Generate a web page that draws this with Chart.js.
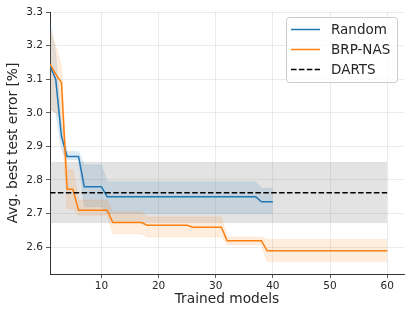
<!DOCTYPE html>
<html><head><meta charset="utf-8">
<script src="https://cdn.jsdelivr.net/npm/chart.js@4"></script>
<style>html,body{margin:0;padding:0;background:#fff}#wrap{width:415px;height:317px;position:relative}</style>
</head><body><div id="wrap"><canvas id="c"></canvas></div>
<script>
// ---- data ----
const randomX     = [1, 2, 3, 4, 6, 7, 10, 11, 37, 38, 40];
const randomMean  = [3.14, 3.10, 2.93, 2.87, 2.87, 2.78, 2.78, 2.75, 2.75, 2.735, 2.735];
const randomUpper = [3.27, 3.18, 2.97, 2.885, 2.885, 2.845, 2.845, 2.795, 2.795, 2.775, 2.775];
const randomLower = [3.01, 3.00, 2.89, 2.86, 2.86, 2.72, 2.72, 2.70, 2.70, 2.70, 2.70];

const brpX     = [1, 2, 3, 4, 5, 6, 11, 12, 17, 18, 25, 26, 31, 32, 38, 39, 60];
const brpMean  = [3.145, 3.115, 3.09, 2.772, 2.772, 2.71, 2.71, 2.673, 2.673, 2.665, 2.665, 2.659, 2.659, 2.619, 2.619, 2.589, 2.589];
const brpUpper = [3.245, 3.20, 3.14, 2.83, 2.83, 2.74, 2.74, 2.705, 2.705, 2.69, 2.69, 2.69, 2.69, 2.63, 2.63, 2.623, 2.623];
const brpLower = [3.01, 3.00, 2.98, 2.715, 2.715, 2.695, 2.695, 2.64, 2.64, 2.63, 2.63, 2.63, 2.63, 2.607, 2.607, 2.557, 2.557];

const dartsX     = [1, 60];
const dartsMean  = [2.762, 2.762];
const dartsUpper = [2.852, 2.852];
const dartsLower = [2.673, 2.673];

const seriesNames = ['Random', 'BRP-NAS', 'DARTS'];
const xTicks = [10, 20, 30, 40, 50, 60];
const yTicks = [2.6, 2.7, 2.8, 2.9, 3.0, 3.1, 3.2, 3.3];
const xLimits = [1, 62.95];
const yLimits = [2.52, 3.3];
const xTitle = 'Trained models';
const yTitle = 'Avg. best test error [%]';

// ---- styling ----
const BLUE = '#1f77b4', ORANGE = '#ff7f0e';
const FONT = "'DejaVu Sans', sans-serif";
const TXT = '#262626';
const pts = (xs, ys) => xs.map((x, i) => ({x: x, y: ys[i]}));

function bandPair(name, xs, up, lo, fillCol, edgeCol, ord) {
  return [
    {label: name + ' upper', data: pts(xs, up), borderColor: edgeCol, borderWidth: 0.8, pointRadius: 0, fill: false, order: ord},
    {label: name + ' lower', data: pts(xs, lo), borderColor: edgeCol, borderWidth: 0.8, pointRadius: 0, fill: '-1', backgroundColor: fillCol, order: ord}
  ];
}

const datasets = [
  {label: seriesNames[0], inLegend: true, data: pts(randomX, randomMean), borderColor: BLUE, borderWidth: 1.5, pointRadius: 0, fill: false, order: 2},
  {label: seriesNames[1], inLegend: true, data: pts(brpX, brpMean), borderColor: ORANGE, borderWidth: 1.5, pointRadius: 0, fill: false, order: 1},
  {label: seriesNames[2], inLegend: true, data: pts(dartsX, dartsMean), borderColor: '#000', borderDash: [5.5, 2.4], borderWidth: 1.5, pointRadius: 0, fill: false, order: 0},
  ...bandPair('DARTS', dartsX, dartsUpper, dartsLower, 'rgba(128,128,128,0.22)', 'rgba(128,128,128,0.18)', 9),
  ...bandPair('Random', randomX, randomUpper, randomLower, 'rgba(31,119,180,0.15)', 'rgba(31,119,180,0.1)', 8),
  ...bandPair('BRP-NAS', brpX, brpUpper, brpLower, 'rgba(255,127,14,0.14)', 'rgba(255,127,14,0.12)', 7)
];

const boxLegend = {
  id: 'boxLegend',
  afterDraw(chart) {
    const ctx = chart.ctx, ca = chart.chartArea;
    const items = chart.data.datasets.filter(d => d.inLegend);
    const w = 111, h = 65;
    const x0 = ca.right - 7 - w, y0 = ca.top + 5;
    ctx.save();
    ctx.beginPath();
    if (ctx.roundRect) ctx.roundRect(x0 + 0.5, y0 + 0.5, w, h, 3); else ctx.rect(x0 + 0.5, y0 + 0.5, w, h);
    ctx.fillStyle = 'rgba(255,255,255,0.8)';
    ctx.fill();
    ctx.strokeStyle = '#cccccc';
    ctx.lineWidth = 1;
    ctx.stroke();
    items.forEach((d, i) => {
      const y = y0 + 12.5 + i * 20;
      ctx.beginPath();
      ctx.setLineDash(d.borderDash || []);
      ctx.strokeStyle = d.borderColor;
      ctx.lineWidth = 1.5;
      ctx.moveTo(x0 + 5, y);
      ctx.lineTo(x0 + 34, y);
      ctx.stroke();
      ctx.setLineDash([]);
      ctx.fillStyle = TXT;
      ctx.font = '13.5px ' + FONT;
      ctx.textBaseline = 'middle';
      ctx.textAlign = 'left';
      ctx.fillText(d.label, x0 + 45, y + 0.5);
    });
    ctx.restore();
  }
};

new Chart(document.getElementById('c'), {
  type: 'line',
  data: {datasets: datasets},
  plugins: [boxLegend],
  options: {
    responsive: true,
    maintainAspectRatio: false,
    animation: false,
    devicePixelRatio: 1,
    layout: {padding: {top: 12, right: 11, left: 0, bottom: 0}},
    plugins: {legend: {display: false}, tooltip: {enabled: false}},
    elements: {line: {tension: 0}},
    scales: {
      x: {
        type: 'linear', min: xLimits[0], max: xLimits[1],
        afterBuildTicks: s => { s.ticks = xTicks.map(v => ({value: v})); },
        afterFit: s => { s.height = 43; },
        grid: {color: 'rgba(0,0,0,0.1)', tickColor: '#333', tickLength: 4, lineWidth: 0.8},
        border: {display: true, color: '#333', width: 1},
        ticks: {color: TXT, font: {family: FONT, size: 10.5}, padding: 2, maxRotation: 0, callback: v => String(v)},
        title: {display: true, text: xTitle, color: TXT, font: {family: FONT, size: 13.75}, padding: {top: 0, bottom: 9}}
      },
      y: {
        type: 'linear', min: yLimits[0], max: yLimits[1],
        afterBuildTicks: s => { s.ticks = yTicks.map(v => ({value: v})); },
        afterFit: s => { s.width = 50; },
        grid: {color: 'rgba(0,0,0,0.1)', tickColor: '#333', tickLength: 4, lineWidth: 0.8},
        border: {display: true, color: '#333', width: 1},
        ticks: {color: TXT, font: {family: FONT, size: 10.5}, padding: 3, callback: v => v.toFixed(1)},
        title: {display: true, text: yTitle, color: TXT, font: {family: FONT, size: 13.75}, padding: {top: 5, bottom: 0}}
      }
    }
  }
});
</script>
</body></html>
